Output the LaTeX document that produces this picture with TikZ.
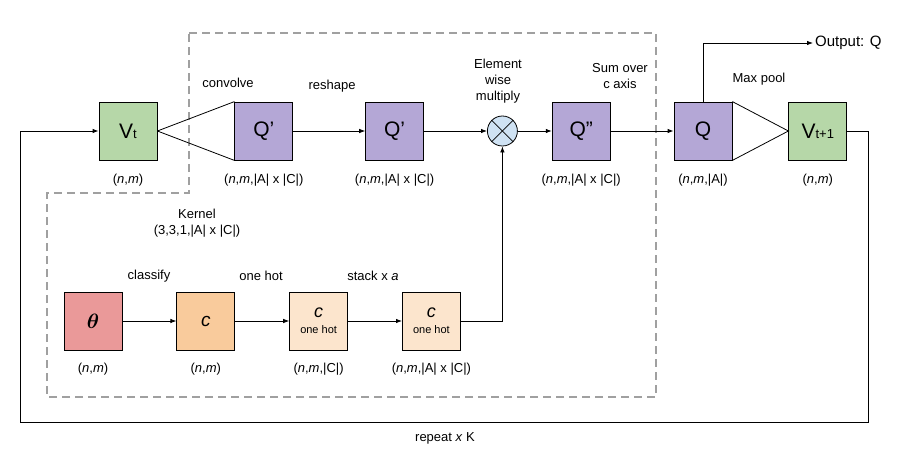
\documentclass[tikz,border=0pt]{standalone}
\usepackage{amsmath}
\usepackage{fontspec}
\setmainfont{Liberation Sans}
\usetikzlibrary{arrows.meta,calc,positioning}

\definecolor{vgreen}{HTML}{B6D7A8}
\definecolor{qpurple}{HTML}{B4A7D6}
\definecolor{thred}{HTML}{EA9999}
\definecolor{corange}{HTML}{F9CB9C}
\definecolor{hotorange}{HTML}{FCE5CD}
\definecolor{mulblue}{HTML}{CFE2F3}
\definecolor{kerngray}{HTML}{A0A0A0}

\begin{document}
\begin{tikzpicture}[
  x=1pt, y=-1pt,
  font=\fontsize{13}{16}\selectfont,
  tensor/.style={draw, line width=0.8pt, minimum width=58pt, minimum height=58pt, inner sep=0pt, align=center, font=\fontsize{21}{24}\selectfont},
  vbox/.style={tensor, fill=vgreen},
  qbox/.style={tensor, fill=qpurple},
  thbox/.style={tensor, fill=thred},
  cbox/.style={tensor, fill=corange, font=\fontsize{19}{22}\selectfont},
  hotbox/.style={tensor, fill=hotorange, font=\fontsize{18}{19}\selectfont},
  dim/.style={inner sep=1pt},
  lab/.style={align=center, inner sep=1pt},
  arr/.style={-{Latex[length=6pt,width=4.5pt]}, line width=0.8pt},
  plain/.style={line width=0.8pt},
  kernel/.style={draw=kerngray, line width=1.6pt, dash pattern=on 8pt off 5pt}
]
\useasboundingbox (0,0) rectangle (915,476);

% kernel region
\draw[kernel] (189,33) -- (656,33) -- (656,397) -- (47,397) -- (47,193) -- (189,193) -- cycle;

% top row
\node[vbox] (vt) at (128,131) {V{\fontsize{13}{13}\selectfont t}};
\node[qbox, right=77pt of vt] (qconv) {Q'};
\node[qbox, right=72pt of qconv] (qflat) {Q'};
\node[circle, draw, plain, fill=mulblue, minimum size=30pt, inner sep=0pt, right=63pt of qflat] (mul) {};
\node[qbox, right=34pt of mul] (qsum) {Q''};
\node[qbox, right=63pt of qsum] (q) {Q};
\node[vbox, right=56pt of q] (vnext) {V{\fontsize{13}{13}\selectfont t+1}};

\node[dim, below=12pt of vt] (vtdim) {(\textit{n},\textit{m})};
\node[dim, below=12pt of qconv] (qconvdim) {(\textit{n},\textit{m},|A| x |C|)};
\node[dim, below=12pt of qflat] (qflatdim) {(\textit{n},\textit{m},|A| x |C|)};
\node[dim, below=12pt of qsum] (qsumdim) {(\textit{n},\textit{m},|A| x |C|)};
\node[dim, below=12pt of q] (qdim) {(\textit{n},\textit{m},|A|)};
\node[dim, below=12pt of vnext] (vnextdim) {(\textit{n},\textit{m})};

\draw[plain] (mul.north west) -- (mul.south east);
\draw[plain] (mul.south west) -- (mul.north east);

\draw[plain] (vt.east) -- (qconv.north west);
\draw[plain] (vt.east) -- (qconv.south west);
\draw[arr] (qconv) -- (qflat);
\draw[arr] (qflat) -- (mul);
\draw[arr] (mul) -- (qsum);
\draw[arr] (qsum) -- (q);
\draw[plain] (q.north east) -- (vnext.west) -- (q.south east);

\node[lab] (convolve) at (228,83) {convolve};
\node[lab] (reshape) at (332,86) {reshape};
\node[lab] (multiply) at (498,81) {Element\\wise\\multiply};
\node[lab] (sumc) at (620,76) {Sum over\\c axis};
\node[lab] (maxpool) at (759,79) {Max pool};
\node[lab] (kernlab) at (197,223) {Kernel\\(3,3,1,|A| x |C|)};

% output
\node[anchor=west, inner sep=2pt, font=\fontsize{15}{17}\selectfont] (out) at (813,43) {Output: Q};
\draw[arr] (q.north) |- (out.west);

% bottom row
\node[thbox] (theta) at (93,321) {$\boldsymbol{\theta}$};
\node[cbox, right=54pt of theta] (cls) {\textit{c}};
\node[hotbox, right=54pt of cls] (hot) {\textit{c}\\[-3pt]{\fontsize{11}{12}\selectfont one hot}};
\node[hotbox, right=54pt of hot] (stack) {\textit{c}\\[-3pt]{\fontsize{11}{12}\selectfont one hot}};

\node[dim, below=11pt of theta] (thetadim) {(\textit{n},\textit{m})};
\node[dim, below=11pt of cls] (clsdim) {(\textit{n},\textit{m})};
\node[dim, below=11pt of hot] (hotdim) {(\textit{n},\textit{m},|C|)};
\node[dim, below=11pt of stack] (stackdim) {(\textit{n},\textit{m},|A| x |C|)};

\draw[arr] (theta) -- (cls);
\draw[arr] (cls) -- (hot);
\draw[arr] (hot) -- (stack);
\draw[arr] (stack.east) -| (mul.south);

\node[lab] (classify) at (149,276) {classify};
\node[lab] (onehot) at (261,276) {one hot};
\node[lab] (stackx) at (373,276) {stack x \textit{a}};

% repeat loop
\coordinate (loopse) at (868,422);
\coordinate (loopsw) at (20,422);
\draw[arr] (vnext.east) -| (loopse) -- (loopsw) |- (vt.west);
\node[lab] (repeat) at (445,438) {repeat \textit{x} K};
\end{tikzpicture}
\end{document}
